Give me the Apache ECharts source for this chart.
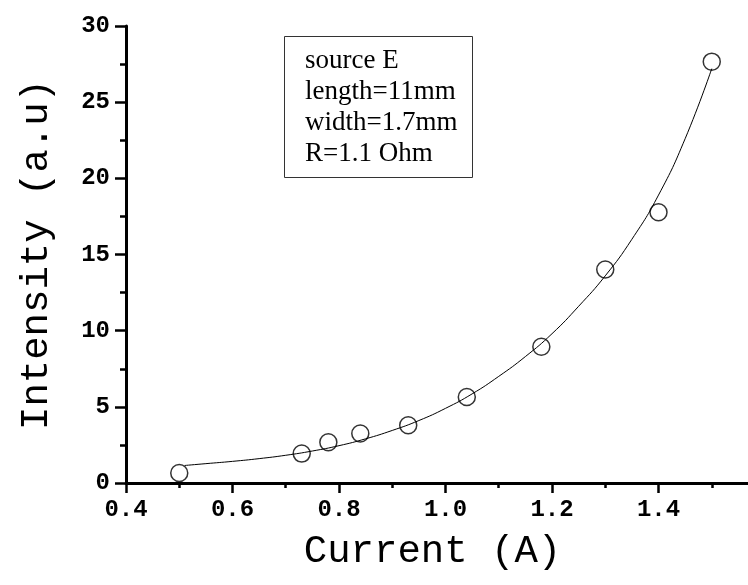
<!DOCTYPE html>
<html>
<head>
<meta charset="utf-8">
<script src="https://cdn.jsdelivr.net/npm/echarts@6/dist/echarts.min.js"></script>
<style>
  html, body { margin: 0; padding: 0; background: #fff; }
  #main { width: 748px; height: 585px; }
</style>
</head>
<body>
<div id="main"></div>
<script>
// measured points (current in A, intensity in a.u)
var currentA = [0.5, 0.73, 0.78, 0.84, 0.93, 1.04, 1.18, 1.30, 1.40, 1.50];
var intensity = [0.66, 1.93, 2.67, 3.25, 3.79, 5.65, 8.94, 14.02, 17.77, 27.66];

// fitted curve
var fitX = [0.51, 0.55, 0.60, 0.65, 0.70, 0.75, 0.80, 0.85, 0.90, 0.95, 1.00,
            1.05, 1.10, 1.15, 1.20, 1.25, 1.30, 1.35, 1.40, 1.45, 1.50];
var fitY = [1.15, 1.27, 1.42, 1.60, 1.82, 2.10, 2.45, 2.90, 3.45, 4.10, 4.90,
            5.85, 7.00, 8.30, 9.80, 11.6, 13.6, 16.0, 18.9, 22.6, 27.2];

var boxLines = ['source E', 'length=11mm', 'width=1.7mm', 'R=1.1 Ohm'];

var pairs = function (xs, ys) {
  var res = [];
  for (var i = 0; i < xs.length; i++) {
    res.push([xs[i], ys[i]]);
  }
  return res;
};

var chart = echarts.init(document.getElementById('main'));

var monoFont = '"Liberation Mono", "Courier New", monospace';

option = {
  backgroundColor: '#fff',
  animation: false,
  grid: {
    left: 126,
    top: 26,
    bottom: 102,
    width: 639,
    outerBoundsMode: 'none',
    containLabel: false
  },
  xAxis: {
    type: 'value',
    min: 0.4,
    max: 1.6,
    interval: 0.2,
    name: 'Current (A)',
    nameLocation: 'middle',
    nameGap: 49,
    nameTextStyle: {
      fontFamily: monoFont,
      fontSize: 39,
      color: '#000',
      padding: [0, 26, 0, 0]
    },
    axisLine: { lineStyle: { color: '#000', width: 3 } },
    axisTick: { length: 10, lineStyle: { color: '#000', width: 2.5 } },
    minorTick: { show: true, splitNumber: 2, length: 5, lineStyle: { color: '#000', width: 2.5 } },
    splitLine: { show: false },
    axisLabel: {
      margin: 15,
      color: '#000',
      fontFamily: monoFont,
      fontWeight: 'bold',
      fontSize: 24,
      formatter: function (v) {
        return v > 1.5 ? '' : v.toFixed(1);
      }
    }
  },
  yAxis: {
    type: 'value',
    min: 0,
    max: 30,
    interval: 5,
    name: 'Intensity (a.u)',
    nameLocation: 'middle',
    nameGap: 70,
    nameTextStyle: {
      fontFamily: monoFont,
      fontSize: 39,
      color: '#000'
    },
    axisLine: { show: true, lineStyle: { color: '#000', width: 3 } },
    axisTick: { show: true, length: 11, lineStyle: { color: '#000', width: 2.5 } },
    minorTick: { show: true, splitNumber: 2, length: 6, lineStyle: { color: '#000', width: 2.5 } },
    splitLine: { show: false },
    axisLabel: {
      margin: 16,
      color: '#000',
      fontFamily: monoFont,
      fontWeight: 'bold',
      fontSize: 24
    }
  },
  graphic: [
    {
      type: 'rect',
      left: 284,
      top: 36,
      shape: { width: 188, height: 141 },
      style: { fill: '#fff', stroke: '#333', lineWidth: 1 },
      z: 10
    },
    {
      type: 'text',
      left: 305,
      top: 45,
      style: {
        text: boxLines.join('\n'),
        font: '27px "Liberation Serif", "Times New Roman", serif',
        lineHeight: 31,
        fill: '#000'
      },
      z: 11
    }
  ],
  series: [
    {
      name: 'fit',
      type: 'line',
      data: pairs(fitX, fitY),
      smooth: true,
      showSymbol: false,
      lineStyle: { color: '#000', width: 1 },
      z: 2
    },
    {
      name: 'data',
      type: 'scatter',
      data: pairs(currentA, intensity),
      symbol: 'circle',
      symbolSize: 17,
      itemStyle: {
        color: 'rgba(0,0,0,0)',
        borderColor: '#000',
        borderWidth: 1.5
      },
      z: 3
    }
  ]
};

chart.setOption(option);
</script>
</body>
</html>
